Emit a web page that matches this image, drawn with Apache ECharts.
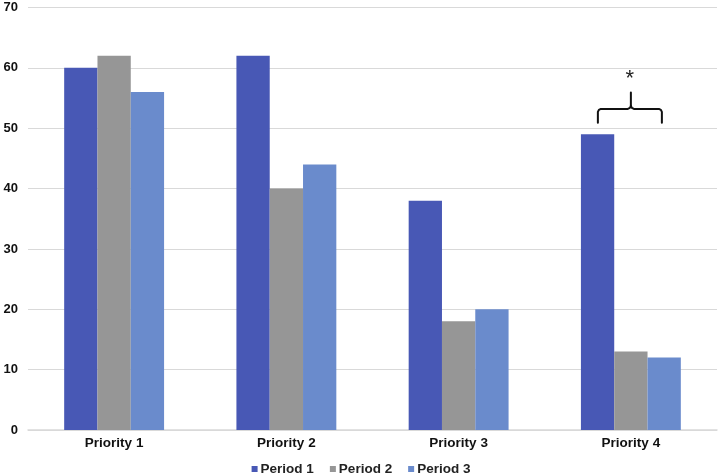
<!DOCTYPE html>
<html>
<head>
<meta charset="utf-8">
<script src="https://cdn.jsdelivr.net/npm/echarts@6/dist/echarts.min.js"></script>
<style>html,body{margin:0;padding:0;background:#fff;}#c{width:722px;height:475px;}</style>
</head>
<body>
<div id="c"></div>
<script>
const categories = ['Priority 1', 'Priority 2', 'Priority 3', 'Priority 4'];
const seriesNames = ['Period 1', 'Period 2', 'Period 3'];
const period1 = [60, 62, 38, 49];
const period2 = [62, 40, 18, 13];
const period3 = [56, 44, 20, 12];
const yTicks = [0, 10, 20, 30, 40, 50, 60, 70];
const colors = ['#4858b5', '#969696', '#6a8bcc'];
const bracketCategory = 3;
const bracketLevels = { bottom: 50.9, mid: 53.2, peak: 55.9, star: 58.1 };

const chart = echarts.init(document.getElementById('c'));
const font = '"Liberation Sans", Arial, sans-serif';
const values = [period1, period2, period3];
chart.setOption({
  animation: false,
  textStyle: { fontFamily: font },
  grid: { left: 28, right: 5, top: 7.5, bottom: 45, containLabel: false },
  legend: {
    data: seriesNames,
    top: 457,
    left: 'center',
    itemWidth: 6,
    itemHeight: 6,
    itemGap: 16,
    icon: 'rect',
    textStyle: { fontFamily: font, fontWeight: 'bold', fontSize: 13.5, color: '#222', padding: [0, 0, 0, -2] }
  },
  xAxis: {
    type: 'category',
    data: categories,
    axisLine: { lineStyle: { color: '#d9d9d9', width: 1.5 } },
    axisTick: { show: false },
    axisLabel: { fontFamily: font, fontWeight: 'bold', fontSize: 13.5, color: '#111', margin: 6 }
  },
  yAxis: {
    type: 'value',
    min: yTicks[0],
    max: yTicks[yTicks.length - 1],
    interval: 10,
    axisLine: { show: false },
    axisTick: { show: false },
    splitLine: { lineStyle: { color: '#d9d9d9', width: 1.2 } },
    axisLabel: { fontFamily: font, fontWeight: 'bold', fontSize: 13, color: '#111', margin: 10 }
  },
  series: seriesNames.map((n, i) => ({
    name: n,
    type: 'bar',
    data: values[i],
    barGap: '0%',
    barCategoryGap: '42%',
    itemStyle: { color: colors[i] }
  }))
});

function drawBracket() {
  const c = chart.convertToPixel({ xAxisIndex: 0 }, bracketCategory);
  const yb = chart.convertToPixel({ yAxisIndex: 0 }, bracketLevels.bottom);
  const ym = chart.convertToPixel({ yAxisIndex: 0 }, bracketLevels.mid);
  const yp = chart.convertToPixel({ yAxisIndex: 0 }, bracketLevels.peak);
  const ys = chart.convertToPixel({ yAxisIndex: 0 }, bracketLevels.star);
  const L = c - 33, R = c + 31, r = 3;
  const stroke = { fill: null, stroke: '#111', lineWidth: 2, lineJoin: 'round', lineCap: 'round' };
  chart.setOption({
    graphic: [
      { type: 'polyline', shape: { points: [[L, yb], [L, ym + r], [L + 1, ym + 1], [L + r, ym], [c - r, ym], [c - 1, ym - 1], [c, ym - r], [c, yp]] }, style: stroke },
      { type: 'polyline', shape: { points: [[c, ym - r], [c + 1, ym - 1], [c + r, ym], [R - r, ym], [R - 1, ym + 1], [R, ym + r], [R, yb]] }, style: stroke },
      { type: 'text', x: c - 1, y: ys, style: { text: '*', fontFamily: font, fontSize: 22, fill: '#222', textAlign: 'center', textVerticalAlign: 'middle' } }
    ]
  });
}
drawBracket();
</script>
</body>
</html>
